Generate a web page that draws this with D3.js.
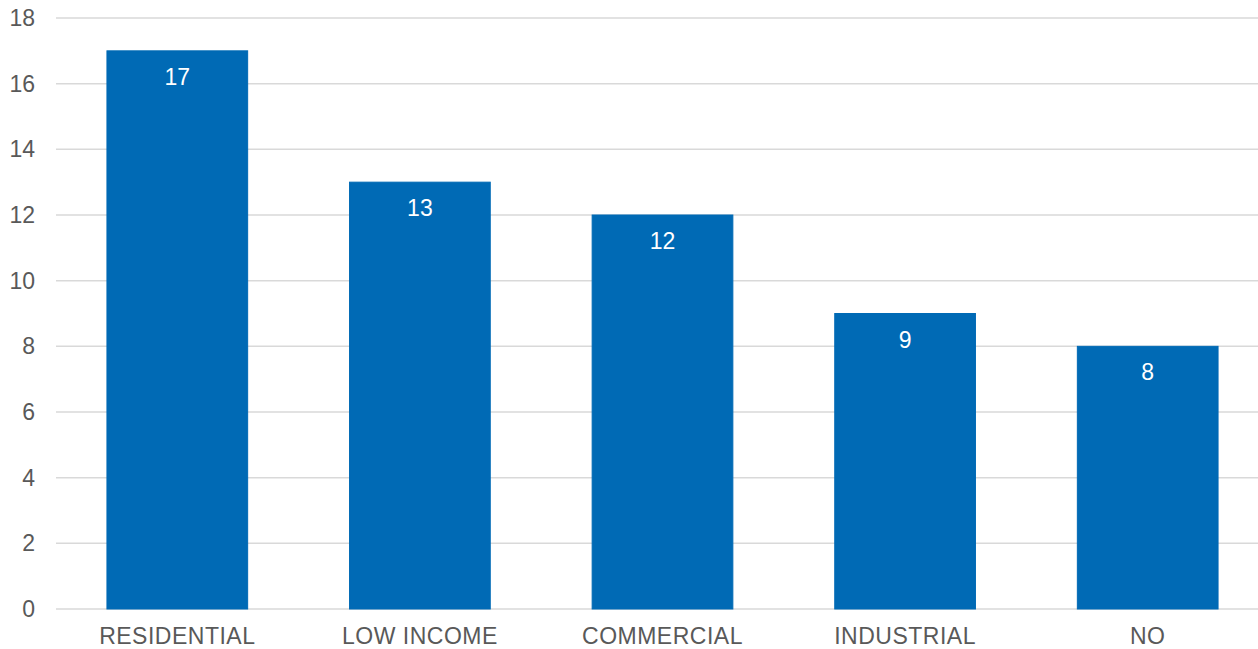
<!DOCTYPE html>
<html>
<head>
<meta charset="utf-8">
<script src="https://cdn.jsdelivr.net/npm/d3@7"></script>
<style>
  html, body { margin: 0; padding: 0; background: #ffffff; }
  svg { display: block; }
  text { font-family: "Liberation Sans", Arial, sans-serif; }
</style>
</head>
<body>
<svg id="chart" width="1258" height="649"></svg>
<script>
// Chart data
const categories = ["RESIDENTIAL", "LOW INCOME", "COMMERCIAL", "INDUSTRIAL", "NO"];
const values = [17, 13, 12, 9, 8];
const yTicks = [0, 2, 4, 6, 8, 10, 12, 14, 16, 18];

const svg = d3.select("#chart");
const W = 1258, H = 649;
const plot = { left: 56, right: 1269, top: 18, bottom: 609 };

const x = d3.scaleBand()
  .domain(categories)
  .range([plot.left, plot.right])
  .paddingInner(0.42)
  .paddingOuter(0.21);

const y = d3.scaleLinear()
  .domain([0, 18])
  .range([plot.bottom, plot.top]);

// Horizontal gridlines
svg.append("g")
  .selectAll("line")
  .data(yTicks)
  .join("line")
  .attr("x1", plot.left)
  .attr("x2", W)
  .attr("y1", d => y(d))
  .attr("y2", d => y(d))
  .attr("stroke", "#d9d9d9")
  .attr("stroke-width", 1.5);

// Y-axis tick labels
const yAxis = d3.axisLeft(y).tickValues(yTicks).tickSize(0).tickPadding(0);
const yg = svg.append("g")
  .attr("transform", `translate(35,0)`)
  .call(yAxis);
yg.select(".domain").remove();
yg.selectAll("text")
  .attr("fill", "#595959")
  .attr("font-size", 23)
  .attr("font-family", "'Liberation Sans', Arial, sans-serif");

// Bars (thin same-colour outline)
svg.append("g")
  .selectAll("rect")
  .data(categories)
  .join("rect")
  .attr("x", d => x(d))
  .attr("width", x.bandwidth())
  .attr("y", (d, i) => y(values[i]))
  .attr("height", (d, i) => y(0) - y(values[i]))
  .attr("fill", "#006ab5")
  .attr("stroke", "#006ab5")
  .attr("stroke-width", 1);

// Value labels inside the bars
svg.append("g")
  .selectAll("text")
  .data(categories)
  .join("text")
  .attr("x", d => x(d) + x.bandwidth() / 2)
  .attr("y", (d, i) => y(values[i]) + 34)
  .attr("text-anchor", "middle")
  .attr("fill", "#ffffff")
  .attr("font-size", 23)
  .text((d, i) => values[i]);

// Category axis labels
const xAxis = d3.axisBottom(x).tickSize(0).tickPadding(0);
const xg = svg.append("g")
  .attr("transform", `translate(0,${plot.bottom})`)
  .call(xAxis);
xg.select(".domain").remove();
xg.selectAll("text")
  .attr("dy", 0)
  .attr("y", 35)
  .attr("fill", "#595959")
  .attr("font-size", 23)
  .attr("letter-spacing", "0.5px")
  .attr("font-family", "'Liberation Sans', Arial, sans-serif");
</script>
</body>
</html>
